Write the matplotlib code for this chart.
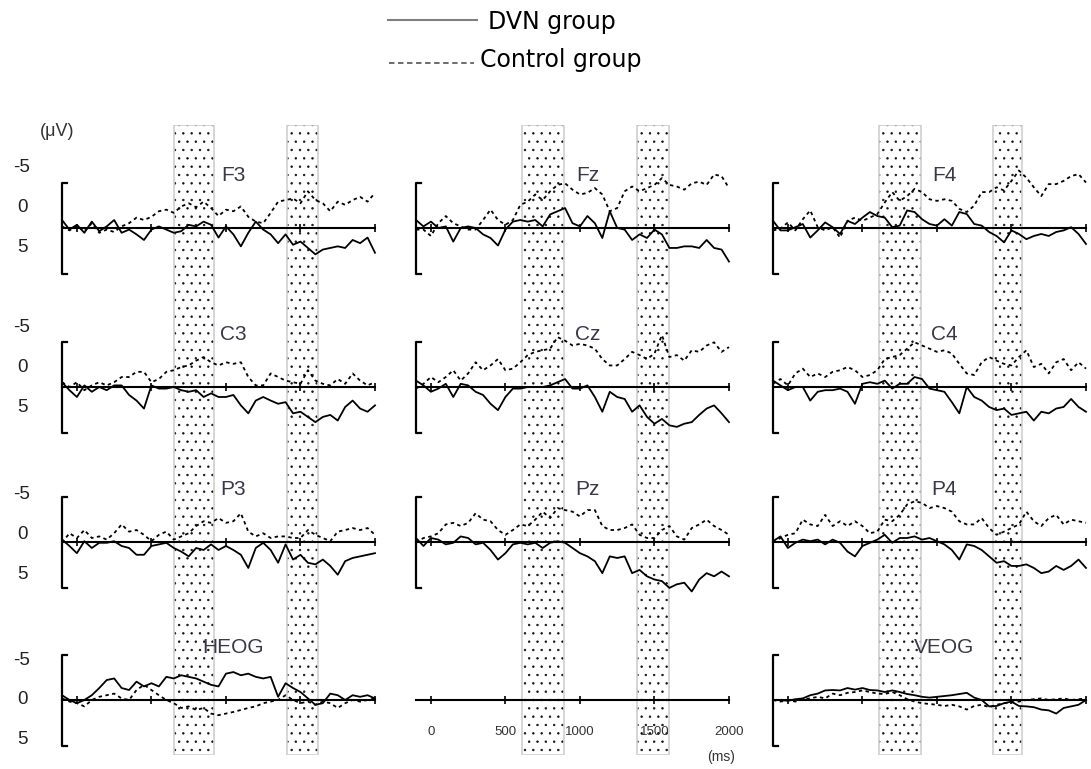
import numpy as np
import matplotlib
matplotlib.use("Agg")
import matplotlib.pyplot as plt
from matplotlib.patches import Rectangle
from matplotlib.lines import Line2D

plt.rcParams['font.family'] = ['Liberation Sans', 'DejaVu Sans']
plt.rcParams['hatch.linewidth'] = 0.5

# ---------------- data (µV, negative plotted upward) ----------------
times = np.arange(-100, 2001, 50)          # ms, 43 samples
time_ticks = [0, 500, 1000, 1500, 2000]
time_tick_labels = ['0', '500', '1000', '1500', '2000']
ytick_values = [-5, 0, 5]
ytick_labels = ['-5', '0', '5']
legend_labels = ['DVN group', 'Control group']

F3_dvn = [-1.0, 0.2, -0.4, 0.6, -0.8, 0.4, -0.2, -1.0, 0.6, 0.2, 0.8, 1.5, 0.2, -0.2, 0.2, 0.6, 0.4, -0.4, -0.2, -0.8, -0.4, 1.2, -0.2, 0.8, 2.3, 0.6, -0.8, 0.2, 0.8, 1.9, 0.8, 2.1, 1.7, 2.5, 3.3, 2.7, 2.5, 2.3, 2.5, 1.5, 1.9, 1.2, 3.1]
F3_ctrl = [-0.2, 0.3, -0.3, 0.4, -0.6, 0.6, 0.2, 0.5, -0.2, -0.6, -1.3, -1.0, -1.4, -2.1, -2.3, -1.9, -2.7, -3.1, -2.6, -3.3, -2.5, -1.5, -2.3, -2.1, -2.7, -1.4, -0.8, -0.6, -1.9, -3.3, -3.5, -3.7, -3.1, -4.6, -3.5, -3.1, -2.1, -3.3, -2.9, -3.5, -3.9, -3.3, -4.4]

Fz_dvn = [-1.0, -0.2, -0.8, 0.0, -0.2, 1.7, 0.0, -0.2, 0.0, 0.8, 1.25, 2.2, 0.2, -0.8, -1.0, -0.8, -1.0, -0.2, -1.7, -2.1, -2.5, -0.6, -0.2, -1.5, -0.6, 1.25, -2.1, 0.0, 0.2, 1.5, 0.8, 1.25, 0.2, 0.8, 2.5, 2.5, 2.3, 2.3, 2.5, 1.5, 2.5, 2.7, 4.2]
Fz_ctrl = [0.2, 0.2, 1.0, -0.6, -1.5, -0.6, -0.2, 0.2, 0.2, -1.0, -2.3, -1.0, -0.4, -1.0, -2.9, -3.3, -4.2, -3.5, -4.6, -5.4, -5.6, -4.8, -4.2, -4.4, -5.0, -4.2, -2.1, -2.5, -4.6, -5.2, -4.6, -5.0, -5.4, -6.25, -5.4, -5.2, -4.8, -5.6, -5.8, -5.4, -6.7, -6.5, -5.0]

F4_dvn = [-0.9, 0.3, 0.3, -0.1, -0.5, 1.2, 0.3, -0.7, -0.1, 0.75, -0.9, -0.5, -1.3, -2.0, -1.5, -1.3, -0.1, -0.3, -2.2, -2.0, -1.1, -0.5, -0.3, -1.1, -0.3, -2.0, -1.75, -0.5, -0.3, 0.5, 1.0, 1.8, 0.3, 0.75, 1.4, 1.0, 0.75, 1.0, 0.5, 0.3, -0.1, 0.75, 2.0]
F4_ctrl = [0.3, 0.1, -0.7, 0.3, -1.1, -2.2, -0.1, 0.3, -0.1, 1.2, -0.9, -1.3, -0.9, -1.3, -1.75, -3.2, -4.5, -3.4, -4.0, -4.9, -4.5, -3.6, -3.4, -3.6, -3.4, -2.4, -2.0, -2.8, -4.5, -4.5, -5.1, -4.7, -5.9, -7.2, -6.3, -5.1, -4.0, -5.5, -5.5, -5.9, -6.5, -6.75, -5.7]

C3_dvn = [-0.6, 0.4, 1.25, -0.2, 0.6, 0.0, 0.4, -0.2, -0.2, 1.0, 1.7, 2.7, -0.2, 0.2, 0.2, 0.0, 0.4, 0.6, 0.4, 1.25, 0.8, 1.25, 1.25, 1.0, 2.3, 3.3, 1.7, 1.25, 1.7, 2.1, 1.9, 3.3, 3.1, 3.75, 4.4, 3.75, 3.5, 4.2, 2.5, 1.7, 2.7, 3.1, 2.3]
C3_ctrl = [-0.6, 0.0, -0.6, 0.4, -0.2, -0.6, -0.2, -0.6, -1.25, -1.25, -1.9, -1.9, -0.6, -1.0, -1.9, -2.1, -2.5, -2.7, -3.3, -3.75, -3.1, -2.7, -3.1, -2.9, -3.1, -1.25, -0.2, -0.2, -1.7, -1.25, -0.8, -0.6, -0.4, -2.1, -0.8, -0.4, -0.2, -1.0, -0.4, -1.7, -0.8, -0.2, -0.6]

Cz_dvn = [-0.8, -0.2, 0.6, 0.2, -0.4, 1.25, -0.4, -0.2, 0.6, 1.0, 2.1, 2.9, 1.25, 0.2, 0.2, 0.0, 0.0, 0.0, -0.2, -0.6, -1.0, 0.2, 0.2, -0.2, 1.25, 3.1, 0.6, 1.25, 1.5, 3.1, 2.3, 3.75, 4.6, 4.0, 4.8, 5.0, 4.6, 4.4, 3.5, 2.7, 2.3, 3.3, 4.4]
Cz_ctrl = [0.2, -0.4, -1.25, -0.6, -1.25, -2.1, -0.8, -1.7, -3.1, -2.1, -2.7, -3.5, -2.1, -2.3, -3.1, -4.0, -4.4, -4.6, -4.8, -6.25, -5.8, -5.2, -5.4, -5.2, -4.8, -3.5, -2.7, -2.7, -3.5, -4.4, -4.0, -3.5, -4.2, -6.5, -3.75, -4.0, -3.3, -4.6, -4.4, -5.2, -5.6, -4.4, -5.0]

C4_dvn = [-0.8, -0.2, 0.4, 0.0, 0.0, 1.7, 0.6, 0.4, 0.4, 0.2, 0.6, 2.1, -0.4, -0.6, -0.4, -0.8, 0.2, -0.4, -0.4, -1.25, -1.0, 0.2, 0.4, 0.6, 1.9, 3.3, 0.0, 1.25, 1.7, 2.5, 2.9, 2.7, 3.5, 3.3, 3.1, 4.2, 3.1, 3.3, 2.7, 2.5, 1.5, 2.5, 3.1]
C4_ctrl = [-0.4, -1.0, -0.2, -1.7, -2.3, -1.25, -1.7, -1.25, -1.9, -2.1, -2.5, -2.1, -1.25, -1.5, -2.1, -3.5, -3.75, -4.0, -4.8, -5.6, -5.2, -4.8, -4.4, -4.6, -4.2, -2.9, -1.7, -1.5, -3.1, -3.75, -3.3, -2.9, -2.7, -3.75, -4.6, -2.5, -2.9, -1.7, -3.1, -3.5, -2.1, -3.1, -2.3]

P3_dvn = [-0.3, 0.5, 1.4, -0.1, 0.75, 0.1, 0.1, -0.1, 0.5, 0.75, 1.6, 1.6, 0.5, 0.3, 0.1, 0.75, 1.2, 1.8, 0.75, 1.0, 0.3, 1.0, 0.5, 1.0, 1.6, 3.25, 0.75, 0.1, 1.0, 2.6, 0.3, 2.2, 1.6, 2.6, 2.8, 2.2, 3.0, 4.1, 2.4, 2.0, 1.8, 1.6, 1.4]
P3_ctrl = [0.1, -1.1, -0.5, -1.5, -0.5, -0.7, -0.3, -1.1, -2.2, -1.3, -1.5, -0.9, -0.1, -0.9, -1.3, -0.3, -0.7, -1.1, -2.0, -2.6, -2.4, -3.0, -2.4, -2.6, -3.6, -1.3, -0.7, -1.1, -0.5, -0.7, -0.7, -0.5, -0.5, -1.5, -0.9, -0.5, -0.1, -1.3, -1.5, -1.75, -1.5, -1.75, -0.9]

Pz_dvn = [-0.5, 0.5, -0.5, -0.3, 0.3, 0.1, -0.7, -0.5, 0.3, 0.1, 1.0, 2.2, 1.4, 0.3, 0.1, 0.3, 0.1, 0.75, 0.1, -0.1, 0.1, 0.75, 1.4, 1.8, 2.4, 3.9, 1.8, 2.0, 1.8, 3.9, 3.5, 4.3, 4.7, 4.9, 5.75, 5.3, 5.1, 6.2, 4.7, 3.9, 4.3, 3.7, 4.3]
Pz_ctrl = [0.1, -0.5, -0.7, -1.1, -2.2, -2.4, -2.0, -2.4, -3.6, -2.8, -2.6, -1.5, -0.9, -1.5, -2.2, -2.0, -2.8, -3.8, -3.0, -4.25, -4.0, -3.8, -3.2, -4.0, -4.0, -2.0, -1.5, -1.5, -1.75, -2.2, -0.9, -0.5, -0.5, -1.5, -2.0, -0.7, -0.3, -1.75, -2.2, -2.8, -2.0, -1.5, -0.9]

P4_dvn = [-0.1, -0.7, 0.75, 0.1, -0.3, -0.1, -0.3, 0.3, -0.3, 0.1, 1.2, 1.8, 0.5, 0.1, -0.3, -0.9, 0.1, -0.5, -0.5, -0.7, -0.3, -0.5, -0.1, 0.3, 1.0, 2.2, 0.3, 0.5, 1.0, 1.8, 2.6, 2.4, 3.0, 3.0, 2.8, 3.25, 3.9, 3.7, 3.0, 3.5, 3.0, 2.2, 3.25]
P4_ctrl = [0.1, -0.5, -0.9, -1.1, -2.8, -2.2, -2.0, -3.4, -2.0, -2.6, -2.0, -2.6, -2.0, -1.1, -1.3, -2.8, -2.6, -3.4, -4.7, -5.1, -4.9, -4.25, -4.5, -4.25, -3.8, -2.6, -2.2, -2.2, -3.0, -1.75, -0.9, -1.3, -1.75, -2.2, -3.8, -2.6, -2.0, -3.0, -3.4, -2.2, -2.8, -2.6, -2.4]

HEOG_dvn = [-0.6, 0.0, 0.4, 0.0, -0.6, -1.5, -2.5, -2.7, -1.5, -1.25, -2.3, -1.7, -2.1, -1.7, -2.9, -2.7, -3.1, -2.9, -2.7, -2.3, -1.9, -1.7, -3.3, -3.5, -3.1, -3.3, -2.9, -2.7, -2.9, -0.4, -2.1, -1.5, -1.0, -0.2, 0.6, 0.4, -0.8, -0.6, 0.0, -0.6, -0.4, -0.6, -0.2]
HEOG_ctrl = [-0.2, 0.2, 0.4, 0.8, 0.0, -0.4, -0.6, -0.8, -0.2, 0.0, -1.25, -1.9, -1.25, -0.6, 0.0, 0.4, 1.0, 0.8, 1.25, 1.0, 1.7, 1.9, 1.7, 1.5, 1.25, 1.0, 0.8, 0.4, 0.2, 0.0, -0.6, 0.0, 0.4, 0.2, 0.6, 0.2, 0.4, 1.0, 0.4, 0.0, 0.2, 0.0, -0.2]

VEOG_dvn = [0.0, 0.0, 0.1, -0.1, -0.2, -0.6, -0.8, -1.2, -1.25, -1.2, -1.5, -1.3, -1.5, -1.25, -1.2, -1.0, -1.2, -1.0, -0.75, -0.6, -0.4, -0.3, -0.4, -0.5, -0.6, -0.75, -0.9, -0.3, 0.0, 0.8, 0.75, 0.4, 0.2, 0.75, 0.8, 0.9, 1.2, 1.3, 1.7, 1.0, 0.8, 0.6, 0.0]
VEOG_ctrl = [0.0, 0.2, 0.0, 0.2, -0.1, -0.2, -0.4, -0.2, -0.8, -0.6, -0.9, -1.0, -1.2, -1.0, -0.8, -0.75, -1.0, -0.6, -0.1, 0.2, 0.4, 0.5, 0.6, 0.75, 0.6, 0.8, 1.2, 0.75, 0.6, 0.9, 0.6, 0.4, 0.3, 0.2, 0.0, -0.1, -0.2, 0.0, -0.1, -0.2, 0.0, -0.1, -0.2]

grid_channels = [['F3', 'Fz', 'F4'],
                 ['C3', 'Cz', 'C4'],
                 ['P3', 'Pz', 'P4'],
                 ['HEOG', None, 'VEOG']]
traces = {
    'F3': (F3_dvn, F3_ctrl), 'Fz': (Fz_dvn, Fz_ctrl), 'F4': (F4_dvn, F4_ctrl),
    'C3': (C3_dvn, C3_ctrl), 'Cz': (Cz_dvn, Cz_ctrl), 'C4': (C4_dvn, C4_ctrl),
    'P3': (P3_dvn, P3_ctrl), 'Pz': (Pz_dvn, Pz_ctrl), 'P4': (P4_dvn, P4_ctrl),
    'HEOG': (HEOG_dvn, HEOG_ctrl), 'VEOG': (VEOG_dvn, VEOG_ctrl),
}
# analysis windows (ms) per column
windows = [[(650, 920), (1410, 1620)],
           [(610, 895), (1385, 1595)],
           [(610, 895), (1375, 1570)]]

# ---------------- layout (pixels) ----------------
W, H = 1091, 769
col_x0 = [62, 416, 773]
col_w = 313
row_zero = [228, 387, 542, 700]
half = 45.5
YL = 5.7
ylabel_shift = [-2.55, -2.45, -0.9, 0.0]


def frect(x, y_top, w, h):
    return [x / W, 1 - (y_top + h) / H, w / W, h / H]


fig = plt.figure(figsize=(W / 100, H / 100), dpi=100)

# dotted analysis windows
for c in range(3):
    axb = fig.add_axes(frect(col_x0[c], 125, col_w, 630), zorder=0)
    axb.set_xlim(-100, 2000)
    axb.set_ylim(0, 1)
    axb.axis('off')
    for a, b in windows[c]:
        axb.add_patch(Rectangle((a, 0), b - a, 1, facecolor='white',
                                edgecolor='#101010', hatch='..', lw=0))
        axb.add_patch(Rectangle((a, 0), b - a, 1, fill=False,
                                edgecolor='#cfcfcf', lw=1.2))

label_color = '#3a3846'
for r in range(4):
    for c in range(3):
        ax = fig.add_axes(frect(col_x0[c], row_zero[r] - half, col_w, 2 * half), zorder=2)
        ax.set_xlim(-100, 2000)
        ax.set_ylim(YL, -YL)
        ax.axis('off')
        ax.patch.set_alpha(0)
        name = grid_channels[r][c]
        ax.plot([-100, 2000], [0, 0], color='black', lw=1.5, clip_on=False)
        ax.vlines(time_ticks, -0.45, 0.45, color='black', lw=1.2, clip_on=False)
        if name is None:
            # time axis
            for t, lab in zip(time_ticks, time_tick_labels):
                ax.text(t, 4.0, lab, ha='center', va='center', fontsize=9.5,
                        color='#333333', clip_on=False)
            ax.text(1950, 7.1, '(ms)', ha='center', va='center', fontsize=10,
                    color='#333333', clip_on=False)
            continue
        dvn, ctrl = traces[name]
        ax.plot(times, ctrl, color='black', lw=1.3, dashes=(1.9, 1.9), clip_on=False)
        ax.plot(times, dvn, color='black', lw=1.3, clip_on=False)
        ax.plot([-65, -100, -100, -65], [-YL, -YL, YL, YL], color='black',
                lw=1.6, clip_on=False)
        ax.text(1050, -6.6, name, ha='center', va='center', fontsize=15,
                color=label_color, clip_on=False)
        if c == 0:
            for v, lab in zip(ytick_values, ytick_labels):
                ax.text(-368, v + ylabel_shift[r], lab, ha='center', va='center',
                        fontsize=13.5, color='#222222', clip_on=False)

fig.text(57 / W, 1 - 132 / H, '(μV)', ha='center', va='center', fontsize=13,
         color='#333333')

# legend
fig.add_artist(Line2D([388 / W, 477 / W], [1 - 20 / H] * 2, color='#808080', lw=1.5))
fig.text(488 / W, 1 - 29 / H, legend_labels[0], ha='left', va='baseline',
         fontsize=17, color='black', family='DejaVu Sans')
fig.add_artist(Line2D([389 / W, 474 / W], [1 - 63 / H] * 2, color='#606060', lw=1.3,
                      dashes=(3, 2)))
fig.text(480 / W, 1 - 67 / H, legend_labels[1], ha='left', va='baseline',
         fontsize=17, color='black', family='DejaVu Sans')

fig.savefig('out.png', dpi=100)
